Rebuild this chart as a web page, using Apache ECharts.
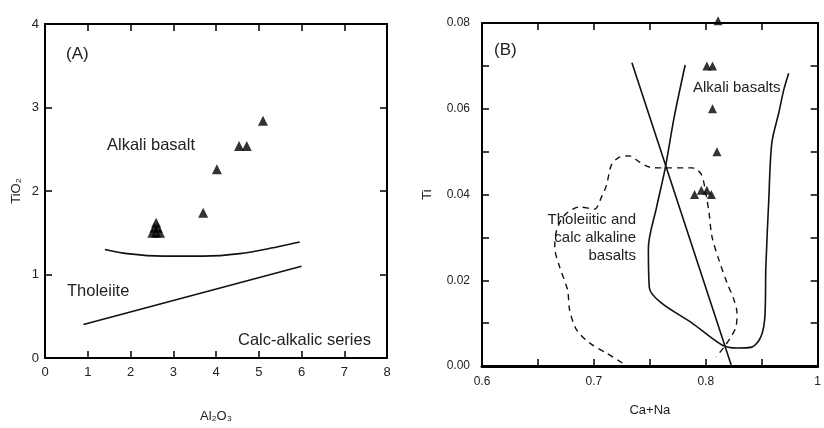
<!DOCTYPE html>
<html><head><meta charset="utf-8">
<script src="https://cdn.jsdelivr.net/npm/echarts@6/dist/echarts.min.js"></script>
<style>html,body{margin:0;padding:0;background:#fff}#c{width:824px;height:428px}</style>
</head><body><div id="c"></div>
<script>
// Panel A: TiO2 vs Al2O3
const aTriangles = [[2.6,1.62],[2.56,1.56],[2.64,1.56],[2.6,1.5],[2.51,1.5],[2.69,1.5],[3.7,1.74],[4.02,2.26],[4.54,2.54],[4.72,2.54],[5.1,2.84]];
const aUpperCurve = [[1.40,1.30],[1.92,1.25],[2.76,1.22],[3.70,1.22],[4.56,1.25],[5.33,1.32],[5.96,1.39]];
const aLowerLine = [[0.9,0.40],[6.0,1.10]];
const aXTicks = [0,1,2,3,4,5,6,7,8];
const aYTicks = [0,1,2,3,4];

// Panel B: Ti vs Ca+Na
const bTriangles = [[0.811,0.0805],[0.801,0.070],[0.806,0.070],[0.806,0.060],[0.810,0.050],[0.790,0.040],[0.796,0.041],[0.801,0.041],[0.805,0.040]];
const bStraightLine = [[0.734,0.0707],[0.823,0.0]];
const bAlkaliCurve = [[0.7816,0.0702],[0.7718,0.0581],[0.7638,0.0462],[0.7560,0.0370],[0.7487,0.0275],[0.7496,0.0182],[0.7602,0.0147],[0.7878,0.0100],[0.8145,0.0049],[0.8279,0.0042],[0.8412,0.0044],[0.8492,0.0068],[0.8528,0.0114],[0.8537,0.0231],[0.8563,0.0387],[0.8590,0.0520],[0.8652,0.0590],[0.8697,0.0644],[0.8741,0.0683]];
const bTholeiiticCurve = [[0.7255,0.0007],[0.7113,0.0030],[0.6961,0.0054],[0.6846,0.0084],[0.6783,0.0131],[0.6765,0.0177],[0.6694,0.0231],[0.6650,0.0277],[0.6668,0.0317],[0.6739,0.0352],[0.6872,0.0371],[0.7006,0.0366],[0.7068,0.0394],[0.7113,0.0422],[0.7157,0.0469],[0.7228,0.0487],[0.7317,0.0490],[0.7406,0.0476],[0.7496,0.0464],[0.7647,0.0462],[0.7878,0.0462],[0.7958,0.0448],[0.8003,0.0399],[0.8029,0.0357],[0.8056,0.0301],[0.8118,0.0247],[0.8190,0.0194],[0.8252,0.0154],[0.8279,0.0124],[0.8270,0.0091],[0.8225,0.0068],[0.8163,0.0044],[0.8092,0.0021]];
const bXLabelValues = [0.6,0.7,0.8,0.9];
const bXLabelTexts = ['0.6','0.7','0.8','1'];
const bYLabelValues = [0,0.02,0.04,0.06,0.08];
const bYLabelTexts = ['0.00','0.02','0.04','0.06','0.08'];

const FONT = 'Liberation Sans';
const NARROW = '"Liberation Sans Narrow", "Liberation Sans"';
const chart = echarts.init(document.getElementById('c'), null, {renderer:'canvas'});

function near(v, arr){ for (let i=0;i<arr.length;i++){ if (Math.abs(arr[i]-v)<1e-6) return i; } return -1; }

const axLine = {show:true, onZero:false, lineStyle:{color:'#000', width:2}};
const tickIn = {show:true, inside:true, length:7, lineStyle:{color:'#000', width:1.5}};

const option = {
  animation:false,
  grid:[
    {left:45, top:24, width:342, height:342, show:false},
    {left:482, top:23, width:337, height:343, show:false}
  ],
  xAxis:[
    {gridIndex:0, type:'value', min:0, max:8, interval:1, position:'bottom',
     axisLine:axLine, axisTick:tickIn, splitLine:{show:false},
     axisLabel:{color:'#222', fontFamily:FONT, fontSize:13, margin:8, formatter:v=>near(v,aXTicks)>=0?String(v):''},
     name:'Al\u2082O\u2083', nameLocation:'middle', nameGap:52, nameTextStyle:{color:'#222', fontFamily:FONT, fontSize:13}},
    {gridIndex:0, type:'value', min:0, max:8, interval:1, position:'top',
     axisLine:axLine, axisTick:tickIn, splitLine:{show:false}, axisLabel:{show:false}},
    {gridIndex:1, type:'value', min:0.6, max:0.9, interval:0.05, position:'bottom',
     axisLine:{show:true, onZero:false, lineStyle:{color:'#000', width:3}}, axisTick:tickIn, splitLine:{show:false},
     axisLabel:{color:'#222', fontFamily:NARROW, fontSize:12, margin:10, formatter:v=>{const i=near(v,bXLabelValues);return i>=0?bXLabelTexts[i]:'';}},
     name:'Ca+Na', nameLocation:'middle', nameGap:38, nameTextStyle:{color:'#222', fontFamily:NARROW, fontSize:13}},
    {gridIndex:1, type:'value', min:0.6, max:0.9, interval:0.05, position:'top',
     axisLine:axLine, axisTick:tickIn, splitLine:{show:false}, axisLabel:{show:false}}
  ],
  yAxis:[
    {gridIndex:0, type:'value', min:0, max:4, interval:1, position:'left',
     axisLine:axLine, axisTick:tickIn, splitLine:{show:false},
     axisLabel:{color:'#222', fontFamily:FONT, fontSize:13, margin:6, formatter:v=>near(v,aYTicks)>=0?String(v):''},
     name:'TiO\u2082', nameLocation:'middle', nameGap:22, nameRotate:90, nameTextStyle:{color:'#222', fontFamily:FONT, fontSize:13}},
    {gridIndex:0, type:'value', min:0, max:4, interval:1, position:'right',
     axisLine:axLine, axisTick:tickIn, splitLine:{show:false}, axisLabel:{show:false}},
    {gridIndex:1, type:'value', min:0, max:0.08, interval:0.01, position:'left',
     axisLine:axLine, axisTick:tickIn, splitLine:{show:false},
     axisLabel:{color:'#222', fontFamily:NARROW, fontSize:12, margin:12, formatter:v=>{const i=near(v,bYLabelValues);return i>=0?bYLabelTexts[i]:'';}},
     name:'Ti', nameLocation:'middle', nameGap:48, nameRotate:90, nameTextStyle:{color:'#222', fontFamily:NARROW, fontSize:13}},
    {gridIndex:1, type:'value', min:0, max:0.08, interval:0.01, position:'right',
     axisLine:axLine, axisTick:tickIn, splitLine:{show:false}, axisLabel:{show:false}}
  ],
  series:[
    {type:'line', xAxisIndex:0, yAxisIndex:0, data:aUpperCurve, symbol:'none', smooth:0.3, lineStyle:{color:'#111', width:1.6}},
    {type:'line', xAxisIndex:0, yAxisIndex:0, data:aLowerLine, symbol:'none', lineStyle:{color:'#111', width:1.6}},
    {type:'scatter', xAxisIndex:0, yAxisIndex:0, data:aTriangles, symbol:'triangle', symbolSize:10, itemStyle:{color:'#000'}, clip:false},
    {type:'line', xAxisIndex:2, yAxisIndex:2, data:bStraightLine, symbol:'none', lineStyle:{color:'#111', width:1.6}},
    {type:'line', xAxisIndex:2, yAxisIndex:2, data:bAlkaliCurve, symbol:'none', smooth:0.3, lineStyle:{color:'#111', width:1.6}},
    {type:'line', xAxisIndex:2, yAxisIndex:2, data:bTholeiiticCurve, symbol:'none', smooth:0.3, lineStyle:{color:'#111', width:1.4, type:[6,5]}},
    {type:'scatter', xAxisIndex:2, yAxisIndex:2, data:bTriangles, symbol:'triangle', symbolSize:9, itemStyle:{color:'#000'}, clip:false}
  ],
  graphic:[
    {type:'text', left:66, top:46, style:{text:'(A)', font:'17px '+FONT, fill:'#222'}},
    {type:'text', left:107, top:137, style:{text:'Alkali basalt', font:'16.5px '+FONT, fill:'#222'}},
    {type:'text', left:67, top:283, style:{text:'Tholeiite', font:'16.5px '+FONT, fill:'#222'}},
    {type:'text', left:238, top:332, style:{text:'Calc-alkalic series', font:'16.5px '+FONT, fill:'#222'}},
    {type:'text', left:494, top:42, style:{text:'(B)', font:'17px '+FONT, fill:'#222'}},
    {type:'text', left:693, top:80, style:{text:'Alkali basalts', font:'15px '+FONT, fill:'#222', backgroundColor:'#fff'}},
    {type:'text', x:636, y:211, style:{text:'Tholeiitic and\ncalc alkaline\nbasalts', font:'15px '+FONT, fill:'#222', align:'right', verticalAlign:'top', lineHeight:18}}
  ]
};
chart.setOption(option);
</script></body></html>
